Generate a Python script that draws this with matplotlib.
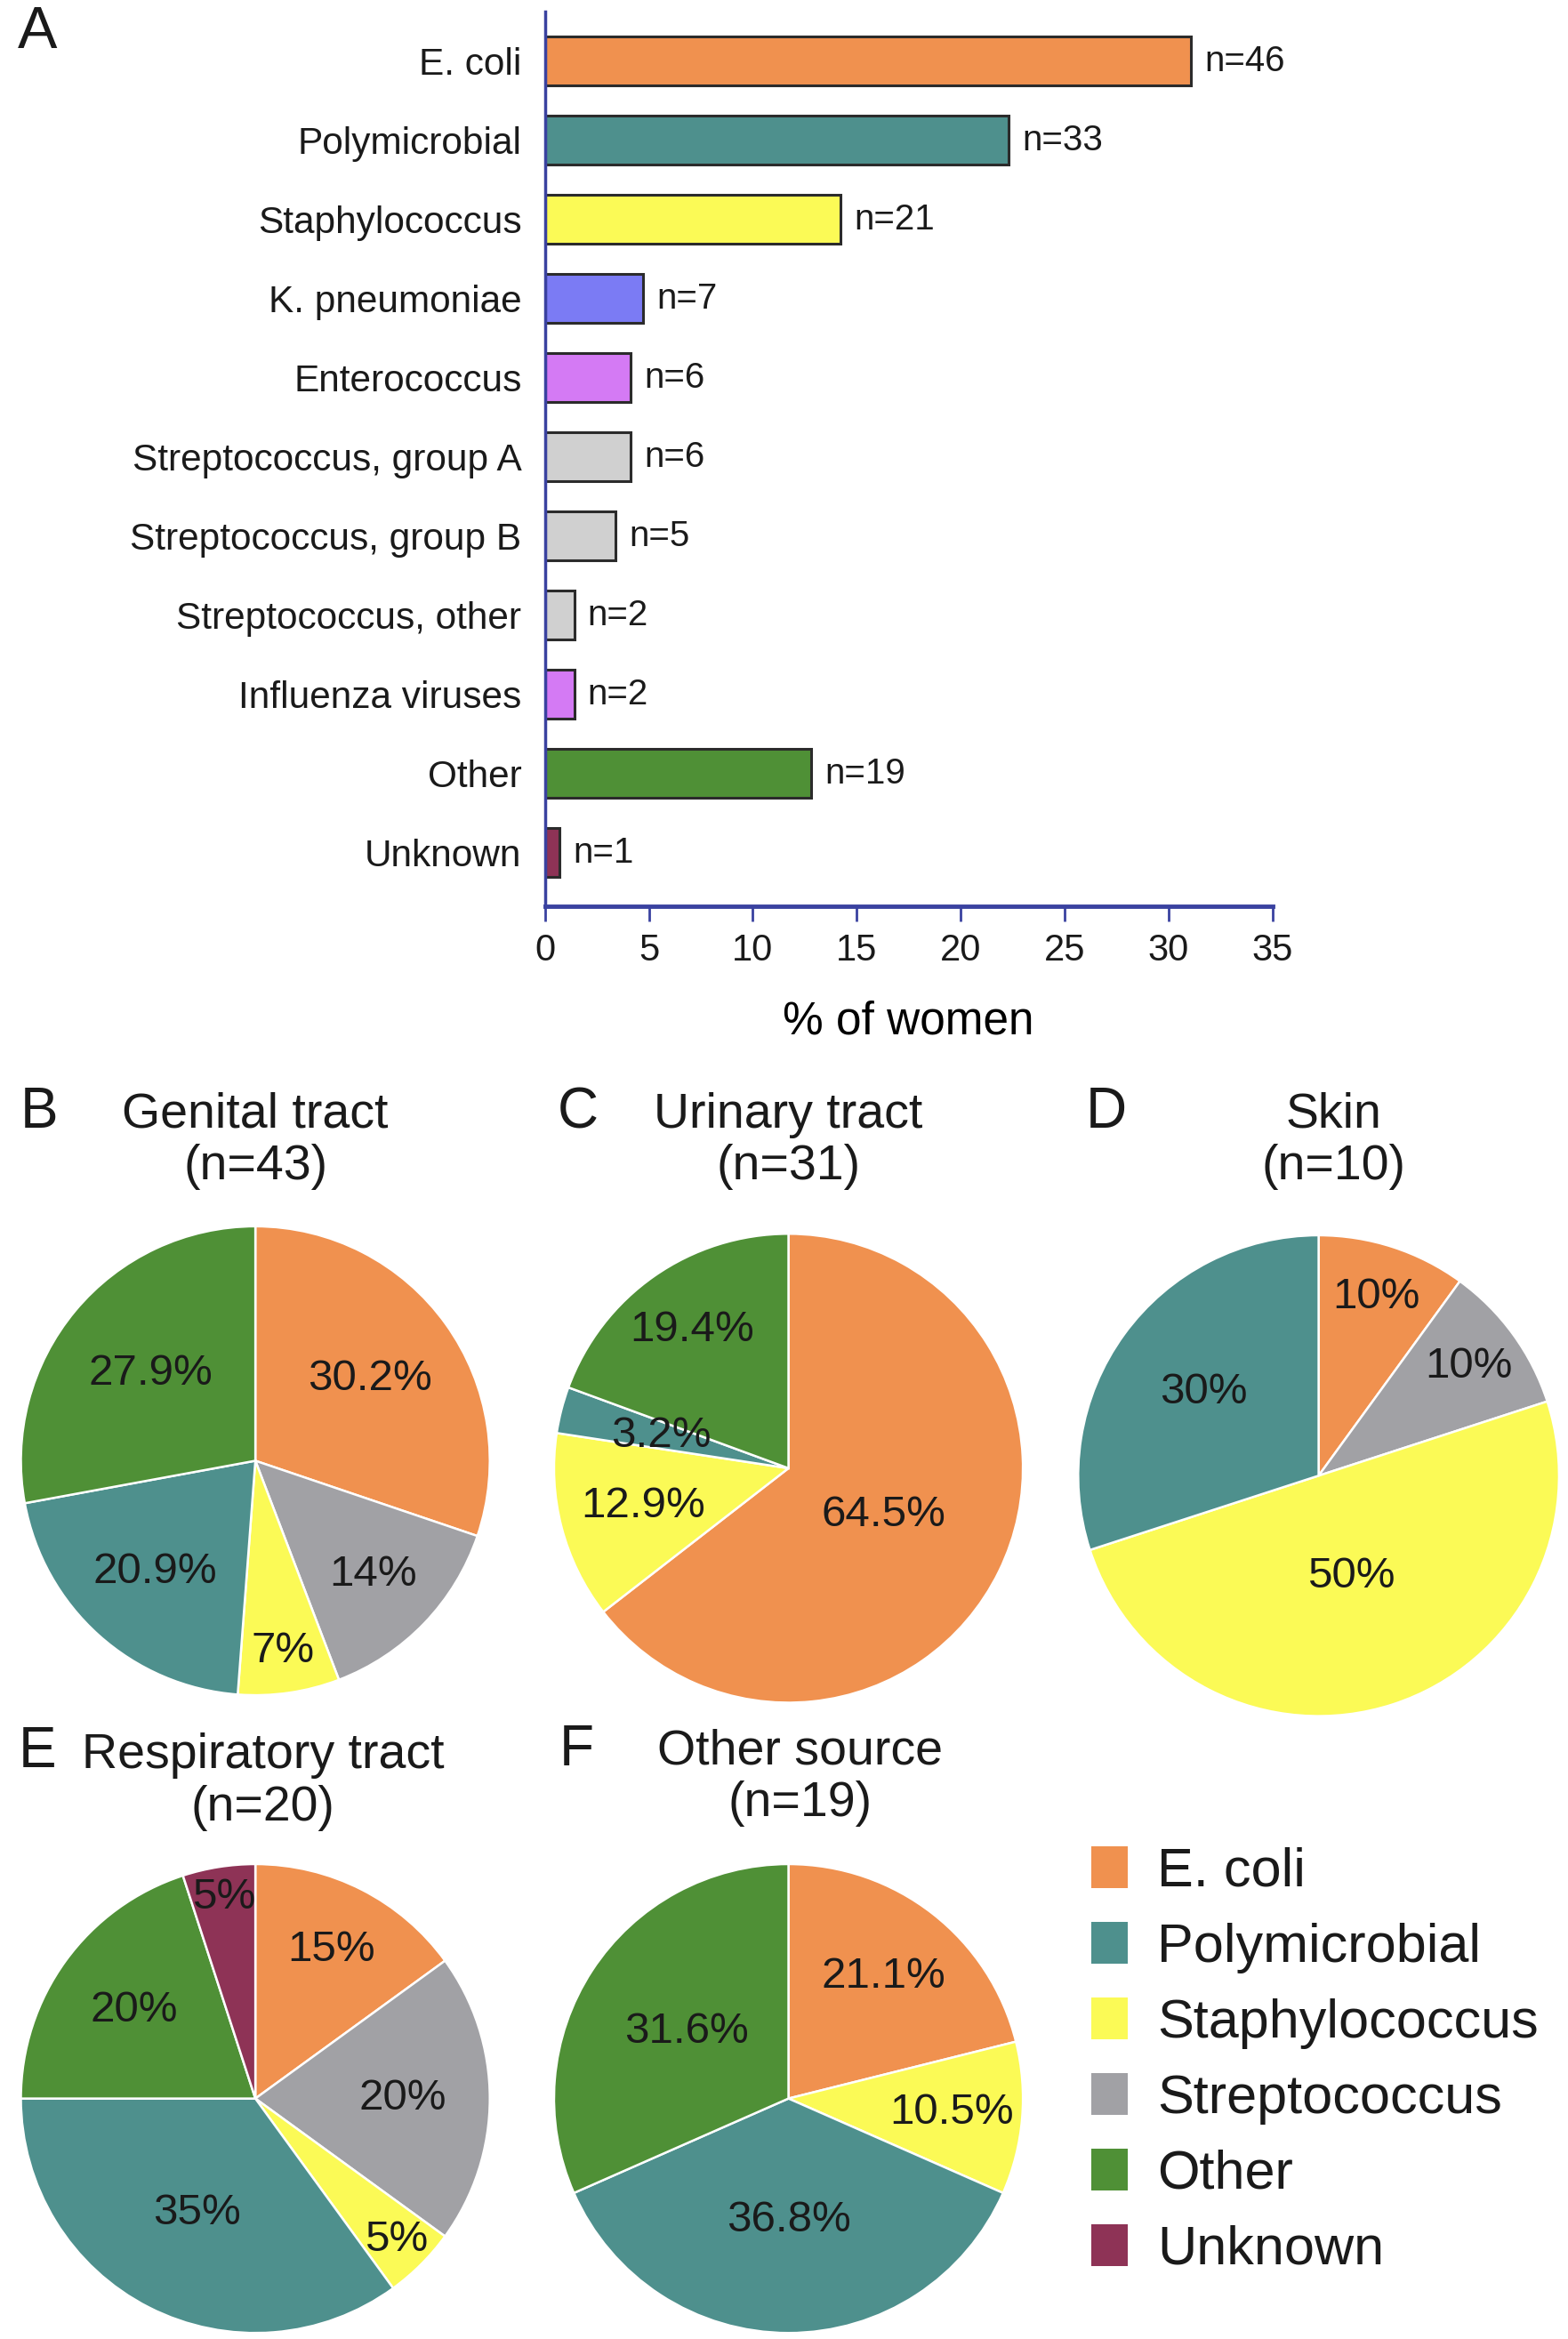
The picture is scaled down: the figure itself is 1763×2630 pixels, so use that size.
import matplotlib.pyplot as plt
from matplotlib.patches import Patch
import numpy as np

plt.rcParams['font.family'] = ['Liberation Sans', 'DejaVu Sans']
plt.rcParams['text.color'] = '#1a1a1a'

# layout grid used for placing panels (reference scaled to 1050 wide)
W, H = 1050.0, 1566.0

# ---- panel A data ----
bar_names = ["E. coli", "Polymicrobial", "Staphylococcus", "K. pneumoniae",
             "Enterococcus", "Streptococcus, group A", "Streptococcus, group B",
             "Streptococcus, other", "Influenza viruses", "Other", "Unknown"]
bar_pct = [31.1, 22.3, 14.2, 4.7, 4.1, 4.1, 3.4, 1.4, 1.4, 12.8, 0.7]
bar_n = [46, 33, 21, 7, 6, 6, 5, 2, 2, 19, 1]

orange = '#F0914F'
teal = '#4E908D'
yellow = '#FBFA56'
gray = '#A1A1A5'
green = '#4F9036'
maroon = '#8E3356'
bar_colors = [orange, teal, yellow, '#7B7BF4', '#D47AF4', '#D0D0D0', '#D0D0D0',
              '#D0D0D0', '#D47AF4', green, maroon]

# ---- pie data ----
cat_colors = {"E. coli": orange, "Polymicrobial": teal, "Staphylococcus": yellow,
              "Streptococcus": gray, "Other": green, "Unknown": maroon}

genital_cat = ["E. coli", "Streptococcus", "Staphylococcus", "Polymicrobial", "Other"]
genital_val = [30.2, 14, 7, 20.9, 27.9]
urinary_cat = ["E. coli", "Staphylococcus", "Polymicrobial", "Other"]
urinary_val = [64.5, 12.9, 3.2, 19.4]
skin_cat = ["E. coli", "Streptococcus", "Staphylococcus", "Polymicrobial"]
skin_val = [10, 10, 50, 30]
resp_cat = ["E. coli", "Streptococcus", "Staphylococcus", "Polymicrobial", "Other", "Unknown"]
resp_val = [15, 20, 5, 35, 20, 5]
other_cat = ["E. coli", "Staphylococcus", "Polymicrobial", "Other"]
other_val = [21.1, 10.5, 36.8, 31.6]

legend_cat = ["E. coli", "Polymicrobial", "Staphylococcus", "Streptococcus", "Other", "Unknown"]

fig = plt.figure(figsize=(17.63, 26.30), dpi=100)

# ---- panel A ----
axis_col = '#3A42A0'
ax = fig.add_axes([365 / W, 1 - 607 / H, (852 - 365) / W, (607 - 8) / H])
y = np.arange(len(bar_names))
ax.barh(y, bar_pct, height=0.62, color=bar_colors, edgecolor='#2b2b2b', linewidth=2.2)
for yi, v, n in zip(y, bar_pct, bar_n):
    ax.annotate(f"n={n}", xy=(v, yi), xytext=(11, 0), textcoords='offset points',
                va='center', ha='left', fontsize=29)
ax.set_xlim(0, 35)
ax.set_ylim(10.68, -0.62)
ax.set_xticks(range(0, 36, 5))
ax.set_yticks(y, bar_names)
ax.tick_params(axis='y', length=0, pad=19, labelsize=30.5, labelcolor='#1a1a1a')
ax.tick_params(axis='x', direction='out', length=12, width=2, color=axis_col,
               labelsize=30, labelcolor='#1a1a1a', pad=9)
for s in ['top', 'right']:
    ax.spines[s].set_visible(False)
ax.spines['left'].set_color(axis_col)
ax.spines['left'].set_linewidth(2.5)
ax.spines['bottom'].set_color(axis_col)
ax.spines['bottom'].set_linewidth(3.5)
ax.set_xlabel("% of women", fontsize=37, labelpad=26)
fig.text(25 / W, 1 - 22 / H, "A", fontsize=48, ha='center', va='center')


def draw_pie(cx, cy, r, cats, vals, dists):
    pax = fig.add_axes([(cx - r) / W, 1 - (cy + r) / H, 2 * r / W, 2 * r / H])
    wedges, _ = pax.pie(vals, colors=[cat_colors[c] for c in cats], startangle=90,
                        counterclock=False, radius=1,
                        wedgeprops=dict(edgecolor='white', linewidth=1.8))
    for w, v, d in zip(wedges, vals, dists):
        ang = np.deg2rad((w.theta1 + w.theta2) / 2)
        pax.text(d * np.cos(ang), d * np.sin(ang), f"{v:g}%", ha='center',
                 va='center', fontsize=35.5)
    pax.set_xlim(-1, 1)
    pax.set_ylim(-1, 1)
    pax.set_aspect('equal')
    pax.axis('off')


draw_pie(171, 978, 157, genital_cat, genital_val, [0.6, 0.7, 0.82, 0.64, 0.58])
draw_pie(528, 983, 157, urinary_cat, urinary_val, [0.45, 0.64, 0.56, 0.72])
draw_pie(883, 988, 161, skin_cat, skin_val, [0.78, 0.77, 0.44, 0.59])
draw_pie(171, 1405, 157, resp_cat, resp_val, [0.71, 0.63, 0.85, 0.55, 0.64, 0.87])
draw_pie(528, 1405, 157, other_cat, other_val, [0.66, 0.7, 0.52, 0.52])

# panel letters and titles
letters = [("B", 26, 745), ("C", 387, 745), ("D", 741, 745), ("E", 25, 1173), ("F", 386, 1172)]
for t, x, yy in letters:
    fig.text(x / W, 1 - yy / H, t, fontsize=46, ha='center', va='center')

titles = [("Genital tract\n(n=43)", 171, 764), ("Urinary tract\n(n=31)", 528, 764),
          ("Skin\n(n=10)", 893, 764), ("Respiratory tract\n(n=20)", 176, 1193),
          ("Other source\n(n=19)", 536, 1190)]
for t, x, yy in titles:
    fig.text(x / W, 1 - yy / H, t, fontsize=40, ha='center', va='center',
             linespacing=1.17)

# legend
handles = [Patch(facecolor=cat_colors[c], edgecolor='none') for c in legend_cat]
fig.legend(handles, legend_cat, loc='upper left', bbox_to_anchor=(731 / W, 1 - 1236 / H),
           frameon=False, fontsize=44, handlelength=0.66, handleheight=0.8,
           handletextpad=0.55, labelspacing=0.45, borderaxespad=0, borderpad=0)

fig.savefig("out.png", dpi=100)
